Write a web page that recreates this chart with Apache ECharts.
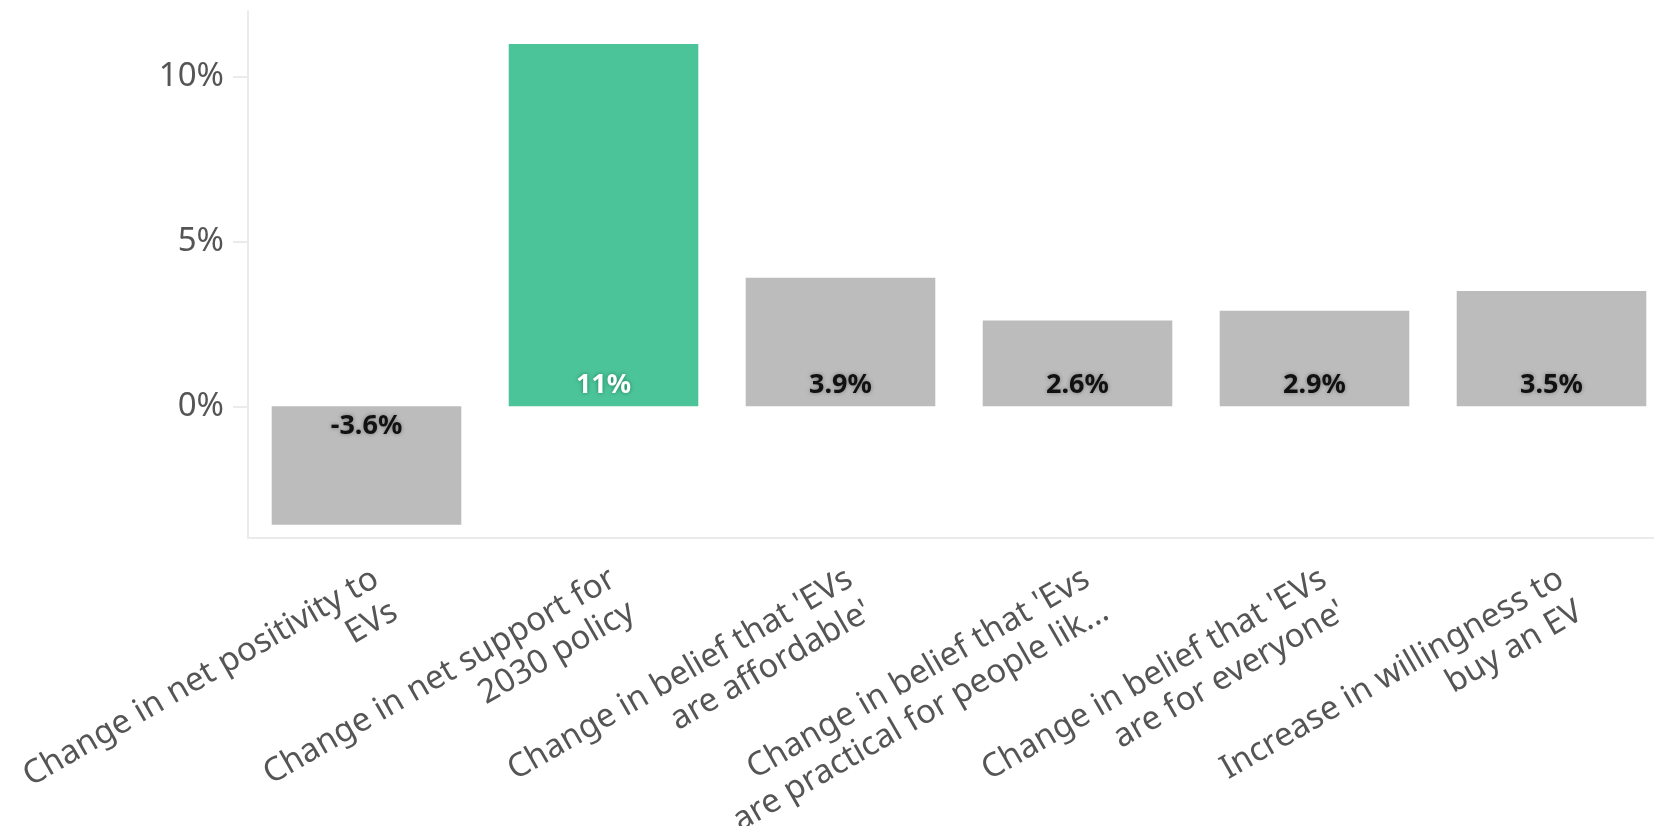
<!DOCTYPE html>
<html>
<head>
<meta charset="utf-8">
<script src="https://cdn.jsdelivr.net/npm/echarts@6/dist/echarts.min.js"></script>
<style>
  html, body { margin: 0; padding: 0; background: #fff; }
  #chart { width: 1654px; height: 826px; }
</style>
</head>
<body>
<div id="chart"></div>
<script>
const categories = [
  "Change in net positivity to\nEVs",
  "Change in net support for\n2030 policy",
  "Change in belief that 'EVs\nare affordable'",
  "Change in belief that 'Evs\nare practical for people lik...",
  "Change in belief that 'EVs\nare for everyone'",
  "Increase in willingness to\nbuy an EV"
]
const values = [-3.6, 11, 3.9, 2.6, 2.9, 3.5]
const highlightIndex = 1
const yTicks = [0, 5, 10]

const gridColor = '#ebebeb'
const grey = '#bcbcbc'
const green = '#4cc49a'

// 每根柱子的颜色和标签位置
const barData = values.map((v, i) => {
  const hl = i === highlightIndex
  return {
    value: v,
    itemStyle: { color: hl ? green : grey },
    label: {
      position: v < 0 ? 'insideTop' : 'insideBottom',
      color: hl ? '#ffffff' : '#111111',
      textShadowColor: hl ? 'rgba(0, 90, 60, 0.6)' : 'rgba(0, 0, 0, 0.35)'
    }
  }
})

const chart = echarts.init(document.getElementById('chart'))
chart.setOption({
  animation: false,
  grid: {
    left: 248,
    top: 11,
    width: 1422,
    height: 527,
    outerBoundsMode: 'none'
  },
  xAxis: {
    type: 'category',
    data: categories,
    axisLine: { onZero: false, lineStyle: { color: gridColor, width: 2 } },
    axisTick: { alignWithLabel: true, length: 15, lineStyle: { color: gridColor, width: 2 } },
    axisLabel: {
      rotate: 30,
      interval: 0,
      margin: 22,
      verticalAlign: 'top',
      color: '#555555',
      fontSize: 33,
      lineHeight: 38,
      fontFamily: 'Noto Sans'
    }
  },
  yAxis: {
    type: 'value',
    min: -4,
    max: 12,
    interval: 1,
    axisLine: { show: true, lineStyle: { color: gridColor, width: 2 } },
    axisTick: { show: true, customValues: yTicks, length: 15, lineStyle: { color: gridColor, width: 2 } },
    axisLabel: {
      customValues: yTicks,
      formatter: v => (v % 5 === 0 ? v + '%' : ''),
      margin: 24,
      color: '#555555',
      fontSize: 33,
      fontFamily: 'Noto Sans'
    },
    splitLine: {
      show: true,
      lineStyle: {
        width: 2,
        color: ['rgba(0,0,0,0)', 'rgba(0,0,0,0)', 'rgba(0,0,0,0)', 'rgba(0,0,0,0)', gridColor]
      }
    }
  },
  series: [{
    type: 'bar',
    data: barData,
    barCategoryGap: '20%',
    label: {
      show: true,
      distance: 7,
      fontSize: 27,
      fontWeight: 'bold',
      fontFamily: 'Noto Sans',
      textShadowBlur: 4,
      formatter: p => p.value + '%'
    }
  }]
})
</script>
</body>
</html>
